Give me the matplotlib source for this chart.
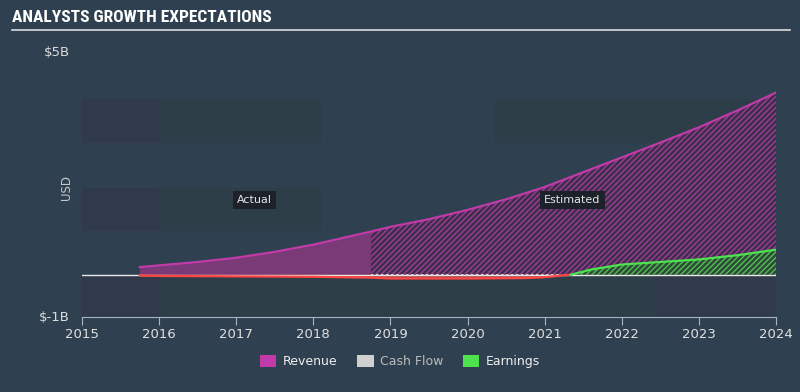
import numpy as np
import matplotlib.pyplot as plt
from matplotlib import font_manager
from matplotlib.patches import Patch, Rectangle

# chart data (USD billions)
rev_x = [2015.75, 2016.0, 2016.5, 2017.0, 2017.5, 2018.0, 2018.75, 2019.0, 2019.5,
         2020.0, 2020.5, 2021.0, 2021.5, 2022.0, 2022.5, 2023.0, 2023.5, 2024.0]
rev_y = [0.18, 0.22, 0.30, 0.40, 0.54, 0.71, 1.02, 1.13, 1.31,
         1.53, 1.78, 2.07, 2.42, 2.77, 3.12, 3.48, 3.88, 4.30]
earn_x = [2015.75, 2016.0, 2017.0, 2018.0, 2018.75, 2019.0, 2020.0, 2020.75, 2021.0,
          2021.34, 2021.6, 2022.0, 2022.5, 2023.0, 2023.5, 2024.0]
earn_y = [-0.02, -0.03, -0.04, -0.05, -0.07, -0.09, -0.09, -0.08, -0.06,
          0.0, 0.12, 0.24, 0.30, 0.36, 0.46, 0.59]
cf_x = [2018.75, 2021.2]
cf_y = [0.0, 0.0]
split = 2018.75
years = [2015, 2016, 2017, 2018, 2019, 2020, 2021, 2022, 2023, 2024]
legend_labels = ['Revenue', 'Cash Flow', 'Earnings']

bg = '#2f4150'
mag = '#c03aa8'
green = '#4ee24e'
red = '#ff4444'
plt.rcParams['hatch.linewidth'] = 1.0

# pick a narrow font for the title if one is there
names = set(f.name for f in font_manager.fontManager.ttflist)
title_font = 'DejaVu Sans'
for n in ['Liberation Sans Narrow', 'DejaVu Sans Condensed', 'Roboto Condensed', 'Open Sans Condensed']:
    if n in names:
        title_font = n
        break

fig = plt.figure(figsize=(8, 3.92), dpi=100, facecolor=bg)
ax = fig.add_axes([0.1025, 0.1913, 0.8675, 0.648])
ax.set_facecolor(bg)
ax.set_xlim(2015, 2024)
ax.set_ylim(-1, 5)

# decorative background bands
for (x0, x1, y0, y1, c) in [(2015, 2018.1, 3.12, 4.14, '#2d3e48'),
                            (2020.35, 2024, 3.12, 4.14, '#2d3e48'),
                            (2015, 2018.1, 1.02, 2.05, '#2d3e48'),
                            (2015, 2016.0, 3.12, 4.14, '#303a4b'),
                            (2015, 2016.0, 1.02, 2.05, '#303a4b'),
                            (2015, 2024, -1, 0, '#2d3e48'),
                            (2015, 2016.0, -1, 0, '#303a4b'),
                            (2022.4, 2024, -1, 0, '#303a4b')]:
    ax.add_patch(Rectangle((x0, y0), x1 - x0, y1 - y0, facecolor=c, edgecolor='none', zorder=0))

rx = np.array(rev_x)
ry = np.array(rev_y)
ex = np.array(earn_x)
ey = np.array(earn_y)
act = rx <= split
est = rx >= split
ax.fill_between(rx[act], 0, ry[act], facecolor='#7a3a78', edgecolor='none', zorder=2)
ax.fill_between(rx[est], 0, ry[est], facecolor='#3b2f4a', edgecolor='#a23a98',
                hatch='//////', linewidth=0, zorder=2)
ax.plot(rx, ry, color=mag, lw=1.6, zorder=4)

# earnings
neg = ey <= 0
pos = ex >= 2021.34
ax.fill_between(ex[neg], 0, ey[neg], facecolor=red, edgecolor='none', alpha=0.6, zorder=3)
ax.fill_between(ex[pos], 0, ey[pos], facecolor='#2f4a3a', edgecolor='#4ec24e',
                hatch='//////', linewidth=0, zorder=3)
ax.plot(ex[neg], ey[neg], color=red, lw=1.6, zorder=5)
ax.plot(ex[pos], ey[pos], color=green, lw=1.6, zorder=5)

ax.axhline(0, color='#e8e8e8', lw=1.0, zorder=3.5)
ax.plot(cf_x, cf_y, color='#e0e0e0', lw=1.2, ls=(0, (1.5, 1.5)), zorder=4.5)

for s in ['top', 'right', 'left']:
    ax.spines[s].set_visible(False)
ax.spines['bottom'].set_color('#a9b4c2')
ax.set_xticks(years)
ax.set_xticklabels([str(y) for y in years])
ax.tick_params(axis='x', colors='#a9b4c2', labelcolor='#e0e0e0', labelsize=9.5, length=6, pad=2)
ax.set_yticks([])

ax.text(-0.018, 5.24, '$5B', transform=ax.get_yaxis_transform(), ha='right', va='center',
        color='#dddddd', fontsize=9.5)
ax.text(-0.018, -1.0, '$-1B', transform=ax.get_yaxis_transform(), ha='right', va='center',
        color='#dddddd', fontsize=9.5)
ax.text(-0.022, 2.05, 'USD', transform=ax.get_yaxis_transform(), rotation=90, ha='center',
        va='center', color='#c8c8c8', fontsize=8.5)

box = dict(boxstyle='square,pad=0.35', facecolor='#1d2129', edgecolor='none')
ax.text(2017.24, 1.76, 'Actual', ha='center', va='center', color='#e6e6e6', fontsize=8, bbox=box, zorder=6)
ax.text(2021.36, 1.76, 'Estimated', ha='center', va='center', color='#e6e6e6', fontsize=8, bbox=box, zorder=6)

tsize = 12.5 if title_font != 'DejaVu Sans' else 9.5
fig.text(0.015, 0.955, 'ANALYSTS GROWTH EXPECTATIONS', color='white', fontsize=tsize,
         fontweight='bold', family=[title_font, 'DejaVu Sans'], va='center')
fig.add_artist(plt.Line2D([0.015, 0.988], [0.923, 0.923], color='#dddddd', lw=1.2))

handles = [Patch(facecolor=mag, edgecolor='none'),
           Patch(facecolor='#d0d0d0', edgecolor='none'),
           Patch(facecolor=green, edgecolor='none')]
leg = fig.legend(handles, legend_labels, loc='center', bbox_to_anchor=(0.5, 0.077), ncol=3,
                 frameon=False, fontsize=9, handlelength=1.3, handleheight=1.0,
                 columnspacing=1.6, handletextpad=0.5)
for t, c in zip(leg.get_texts(), ['#eeeeee', '#bbbbbb', '#eeeeee']):
    t.set_color(c)

fig.savefig('out.png', dpi=100, facecolor=bg)
